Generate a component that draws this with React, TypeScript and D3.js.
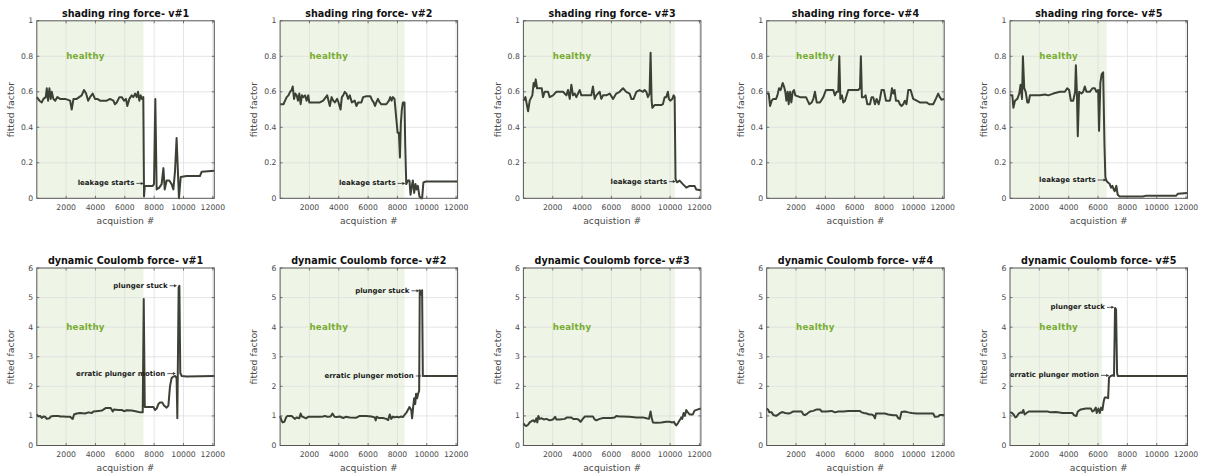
import React from 'react';
import * as d3 from 'd3';

type Pt = [number, number];
type Mark = { label: string; tail: Pt; head: Pt };

// ---- axes ----
const ACQ_MAX = 12100;
const X_TICKS = [2000, 4000, 6000, 8000, 10000, 12000];
const SHADING_TICKS = [0, 0.2, 0.4, 0.6, 0.8, 1];
const COULOMB_TICKS = [0, 1, 2, 3, 4, 5, 6];
const VALVES = ['v#1', 'v#2', 'v#3', 'v#4', 'v#5'];

// acquisition index where each valve stops being healthy
const SHADING_HEALTHY_END = [7270, 8480, 10330, 12100, 6600];
const COULOMB_HEALTHY_END = [7270, 8480, 10330, 12100, 6270];

// ---- shading ring force fitted factor ----
const shadingV1: Pt[] = [
  [0, 0.57], [180, 0.55], [340, 0.54], [450, 0.56], [610, 0.57], [680, 0.62], [770, 0.55], [860, 0.62],
  [950, 0.56], [1020, 0.6], [1130, 0.56], [1250, 0.55], [1400, 0.57], [1590, 0.56], [1930, 0.56],
  [2270, 0.55], [2380, 0.5], [2500, 0.56], [2720, 0.56], [3060, 0.58], [3220, 0.61], [3360, 0.59],
  [3500, 0.55], [3630, 0.57], [3810, 0.59], [3970, 0.56], [4130, 0.56], [4310, 0.55], [4770, 0.55],
  [4990, 0.56], [5220, 0.55], [5330, 0.53], [5450, 0.54], [5630, 0.57], [5790, 0.57], [5950, 0.55],
  [6080, 0.56], [6170, 0.52], [6310, 0.56], [6470, 0.58], [6580, 0.57], [6700, 0.59], [6810, 0.57],
  [6900, 0.6], [6990, 0.55], [7080, 0.58], [7170, 0.56], [7260, 0.57], [7310, 0.01], [7360, 0.07],
  [7490, 0.07], [7900, 0.07], [7990, 0.08], [8080, 0.56], [8170, 0.05], [8350, 0.06], [8510, 0.08],
  [8630, 0.17], [8720, 0.05], [8850, 0.1], [9030, 0.1], [9190, 0.08], [9310, 0.05], [9420, 0.15],
  [9530, 0.34], [9690, 0.0], [9810, 0.12], [10210, 0.125], [10900, 0.125], [11120, 0.125],
  [11240, 0.15], [12100, 0.155],
];

const shadingV2: Pt[] = [
  [0, 0.53], [230, 0.53], [340, 0.55], [450, 0.57], [570, 0.58], [680, 0.6], [790, 0.61], [860, 0.63],
  [950, 0.56], [1040, 0.59], [1130, 0.58], [1220, 0.55], [1310, 0.59], [1400, 0.53], [1490, 0.58],
  [1580, 0.57], [1700, 0.58], [1810, 0.55], [1920, 0.58], [1990, 0.54], [2260, 0.54], [2710, 0.54],
  [2940, 0.55], [3120, 0.57], [3210, 0.58], [3300, 0.55], [3390, 0.52], [3510, 0.57], [3620, 0.55],
  [3730, 0.54], [3890, 0.56], [3980, 0.54], [4120, 0.5], [4210, 0.57], [4300, 0.58], [4410, 0.6],
  [4520, 0.59], [4640, 0.56], [4750, 0.58], [4890, 0.54], [5090, 0.55], [5200, 0.52], [5320, 0.54],
  [5540, 0.54], [5660, 0.57], [5880, 0.575], [6150, 0.575], [6290, 0.55], [6380, 0.54], [6470, 0.52],
  [6560, 0.54], [6670, 0.56], [6790, 0.54], [6900, 0.53], [7240, 0.53], [7420, 0.55], [7510, 0.57],
  [7600, 0.55], [7690, 0.57], [7800, 0.56], [7920, 0.45], [8010, 0.37], [8100, 0.37], [8170, 0.23],
  [8230, 0.42], [8300, 0.5], [8370, 0.54], [8480, 0.54], [8530, 0.3], [8600, 0.08], [8710, 0.1],
  [8820, 0.1], [8890, 0.02], [8980, 0.07], [9050, 0.1], [9140, 0.03], [9230, 0.08], [9300, 0.05],
  [9390, 0.07], [9500, 0.01], [9610, 0.0], [9680, 0.0], [9770, 0.09], [9950, 0.095], [12100, 0.095],
];

const shadingV3: Pt[] = [
  [0, 0.55], [140, 0.57], [230, 0.53], [320, 0.49], [430, 0.55], [550, 0.57], [610, 0.58], [700, 0.65],
  [770, 0.63], [840, 0.67], [930, 0.62], [1110, 0.62], [1250, 0.62], [1340, 0.57], [1450, 0.6],
  [1680, 0.6], [1790, 0.57], [2020, 0.58], [2250, 0.6], [2700, 0.6], [2930, 0.58], [3040, 0.61],
  [3160, 0.56], [3270, 0.64], [3380, 0.58], [3500, 0.59], [3610, 0.57], [3720, 0.59], [3840, 0.61],
  [3950, 0.58], [4290, 0.58], [4630, 0.58], [4740, 0.63], [4860, 0.56], [4970, 0.58], [5200, 0.6],
  [5310, 0.56], [5430, 0.58], [5650, 0.58], [5880, 0.59], [6110, 0.56], [6330, 0.59], [6560, 0.6],
  [6790, 0.62], [7010, 0.6], [7240, 0.59], [7360, 0.56], [7510, 0.56], [7700, 0.6], [7920, 0.61],
  [8150, 0.6], [8260, 0.61], [8380, 0.6], [8490, 0.57], [8600, 0.59], [8670, 0.82], [8740, 0.55],
  [8790, 0.51], [8940, 0.525], [9400, 0.525], [9510, 0.53], [9630, 0.57], [9740, 0.57], [9850, 0.6],
  [9920, 0.56], [10010, 0.55], [10150, 0.56], [10240, 0.58], [10310, 0.57], [10370, 0.11],
  [10470, 0.09], [10650, 0.1], [10870, 0.08], [10990, 0.07], [11100, 0.06], [11330, 0.07],
  [11670, 0.07], [11780, 0.05], [12100, 0.045],
];

const shadingV4: Pt[] = [
  [0, 0.59], [140, 0.59], [230, 0.52], [340, 0.55], [450, 0.56], [640, 0.56], [730, 0.58], [840, 0.62],
  [950, 0.61], [1090, 0.65], [1180, 0.63], [1270, 0.6], [1340, 0.55], [1430, 0.6], [1500, 0.53],
  [1590, 0.6], [1680, 0.54], [1770, 0.6], [1860, 0.61], [1950, 0.58], [2270, 0.57], [2500, 0.57],
  [2680, 0.57], [2790, 0.55], [2910, 0.53], [3070, 0.54], [3180, 0.56], [3290, 0.6], [3410, 0.54],
  [3630, 0.54], [3860, 0.57], [4040, 0.61], [4310, 0.61], [4540, 0.61], [4650, 0.58], [4770, 0.6],
  [4880, 0.6], [4950, 0.8], [5020, 0.56], [5130, 0.58], [5220, 0.54], [5340, 0.55], [5560, 0.61],
  [5900, 0.61], [6240, 0.61], [6360, 0.62], [6420, 0.8], [6490, 0.57], [6630, 0.57], [6740, 0.58],
  [6860, 0.53], [7040, 0.53], [7150, 0.57], [7260, 0.57], [7380, 0.53], [7490, 0.56], [7630, 0.53],
  [7720, 0.56], [7830, 0.61], [7990, 0.61], [8130, 0.55], [8400, 0.55], [8470, 0.58], [8540, 0.62],
  [8630, 0.59], [8720, 0.61], [8810, 0.55], [8970, 0.55], [9080, 0.53], [9190, 0.52], [9310, 0.53],
  [9420, 0.55], [9530, 0.53], [9650, 0.61], [9810, 0.61], [9990, 0.56], [10220, 0.55], [10440, 0.54],
  [10670, 0.54], [10900, 0.54], [11080, 0.53], [11350, 0.53], [11530, 0.56], [11690, 0.59],
  [11800, 0.57], [11920, 0.555], [12100, 0.56],
];

const shadingV5: Pt[] = [
  [0, 0.58], [160, 0.58], [230, 0.51], [340, 0.55], [500, 0.56], [630, 0.59], [720, 0.64], [820, 0.56],
  [880, 0.8], [970, 0.62], [1070, 0.6], [1180, 0.54], [1270, 0.54], [1360, 0.58], [1590, 0.58],
  [2040, 0.58], [2380, 0.585], [2610, 0.58], [2950, 0.59], [3400, 0.6], [3740, 0.6], [3900, 0.62],
  [4030, 0.61], [4150, 0.55], [4310, 0.55], [4440, 0.6], [4490, 0.75], [4560, 0.6], [4620, 0.35],
  [4710, 0.6], [4870, 0.59], [4990, 0.6], [5100, 0.63], [5210, 0.6], [5440, 0.6], [5620, 0.62],
  [5780, 0.62], [5890, 0.6], [6010, 0.61], [6070, 0.38], [6160, 0.65], [6250, 0.7], [6350, 0.71],
  [6440, 0.3], [6500, 0.12], [6570, 0.1], [6660, 0.09], [6800, 0.08], [6890, 0.06], [6980, 0.07],
  [7070, 0.05], [7140, 0.04], [7250, 0.07], [7340, 0.02], [7480, 0.01], [9060, 0.01], [9290, 0.015],
  [11330, 0.015], [11440, 0.025], [12100, 0.03],
];

// ---- dynamic Coulomb force fitted factor ----
const coulombV1: Pt[] = [
  [0, 1.05], [110, 0.98], [230, 1.0], [340, 0.93], [450, 0.98], [570, 0.97], [680, 0.9], [860, 0.92],
  [950, 0.98], [1140, 1.0], [1480, 1.0], [1590, 0.98], [1820, 0.98], [2040, 0.97], [2270, 0.97],
  [2380, 0.92], [2450, 0.9], [2540, 1.05], [2720, 1.08], [2950, 1.1], [3290, 1.08], [3520, 1.12],
  [3750, 1.1], [3860, 1.15], [4200, 1.17], [4430, 1.18], [4720, 1.27], [5040, 1.27], [5180, 1.15],
  [5270, 1.22], [5560, 1.2], [5790, 1.2], [5950, 1.16], [6130, 1.19], [6470, 1.18], [6810, 1.15],
  [7040, 1.12], [7220, 1.12], [7290, 4.95], [7360, 1.3], [7490, 1.3], [7950, 1.3], [8060, 1.2],
  [8170, 1.25], [8290, 1.4], [8400, 1.45], [8560, 1.45], [8670, 1.35], [8850, 1.28], [8970, 1.35],
  [9080, 2.0], [9190, 2.28], [9310, 2.33], [9420, 2.35], [9530, 2.28], [9580, 0.92], [9670, 5.35],
  [9720, 5.4], [9780, 2.45], [9880, 2.35], [10220, 2.33], [11120, 2.34], [12100, 2.35],
];

const coulombV2: Pt[] = [
  [0, 1.0], [90, 0.85], [180, 0.78], [290, 0.8], [410, 0.95], [500, 1.0], [790, 1.0], [900, 0.95],
  [1020, 0.9], [1130, 0.95], [1310, 0.92], [1400, 1.08], [1490, 0.98], [1630, 0.95], [1760, 0.92],
  [1920, 0.97], [2040, 0.97], [2710, 0.97], [2940, 0.98], [3050, 1.0], [3210, 0.97], [3440, 0.98],
  [3570, 1.08], [3710, 0.97], [3850, 0.96], [4070, 0.98], [4300, 0.93], [4480, 0.97], [4750, 0.95],
  [5200, 0.94], [5430, 1.0], [5880, 1.0], [6220, 0.98], [6450, 0.95], [6520, 0.85], [6580, 0.97],
  [6740, 0.93], [7010, 0.93], [7240, 0.9], [7370, 0.86], [7470, 1.05], [7580, 0.9], [7690, 0.98],
  [7800, 0.95], [7960, 0.97], [8100, 0.95], [8260, 0.98], [8370, 0.96], [8510, 1.05], [8600, 1.1],
  [8710, 1.2], [8820, 1.3], [8940, 1.2], [9000, 0.92], [9070, 1.3], [9140, 1.6], [9210, 1.4],
  [9270, 1.75], [9340, 1.6], [9410, 1.75], [9480, 1.85], [9520, 5.25], [9610, 5.1], [9680, 5.25],
  [9730, 2.35], [9950, 2.35], [12100, 2.35],
];

const coulombV3: Pt[] = [
  [0, 0.75], [110, 0.68], [200, 0.66], [320, 0.7], [430, 0.78], [550, 0.82], [660, 0.85], [770, 0.8],
  [890, 0.92], [950, 0.78], [1020, 1.0], [1110, 0.9], [1250, 0.92], [1390, 0.88], [1570, 0.9],
  [1790, 0.85], [2020, 0.88], [2160, 0.97], [2250, 0.88], [2470, 0.88], [2820, 0.9], [2970, 0.95],
  [3270, 0.95], [3380, 0.9], [3610, 0.9], [3750, 0.88], [3900, 0.8], [4020, 0.88], [4180, 0.98],
  [4520, 0.98], [4740, 0.98], [4860, 0.88], [4970, 0.85], [5200, 0.9], [5430, 0.93], [5650, 0.93],
  [5990, 0.93], [6220, 0.95], [6330, 1.0], [6560, 0.98], [6790, 0.98], [7240, 0.97], [7700, 0.95],
  [8150, 0.95], [8380, 0.92], [8560, 0.9], [8670, 1.15], [8740, 0.95], [8830, 0.78], [9060, 0.77],
  [9400, 0.78], [9740, 0.8], [9970, 0.8], [10150, 0.78], [10260, 0.8], [10350, 0.72], [10420, 0.68],
  [10530, 0.75], [10650, 0.85], [10760, 0.95], [10830, 0.9], [10920, 1.1], [11010, 1.0], [11100, 1.2],
  [11210, 1.12], [11330, 1.05], [11550, 1.05], [11670, 1.18], [11900, 1.22], [12100, 1.25],
];

const coulombV4: Pt[] = [
  [0, 1.25], [110, 1.2], [180, 1.12], [340, 1.12], [450, 1.03], [640, 1.0], [800, 1.05], [910, 1.1],
  [1090, 1.13], [1250, 1.1], [1480, 1.08], [1630, 1.1], [1820, 1.15], [2380, 1.15], [2500, 1.05],
  [2610, 1.03], [2770, 1.08], [2950, 1.15], [3180, 1.17], [3410, 1.22], [3630, 1.22], [3750, 1.15],
  [4090, 1.15], [4430, 1.17], [4650, 1.12], [4880, 1.15], [5220, 1.15], [5560, 1.17], [6020, 1.17],
  [6360, 1.17], [6470, 1.12], [6630, 1.1], [6810, 1.08], [6990, 1.05], [7150, 1.05], [7310, 1.0],
  [7380, 0.92], [7450, 1.08], [7720, 1.08], [8060, 1.08], [8290, 1.05], [8630, 1.02], [8850, 1.02],
  [8970, 0.92], [9080, 0.9], [9190, 1.13], [9420, 1.15], [9650, 1.12], [9880, 1.1], [10220, 1.08],
  [10670, 1.08], [11350, 1.08], [11460, 0.97], [11690, 0.98], [11800, 1.03], [12100, 1.03],
];

const coulombV5: Pt[] = [
  [0, 1.13], [140, 1.1], [250, 1.05], [360, 0.95], [450, 0.97], [590, 1.08], [730, 1.12], [820, 1.1],
  [910, 1.2], [1000, 1.05], [1130, 1.1], [1270, 1.15], [1540, 1.15], [1990, 1.15], [2560, 1.15],
  [2790, 1.12], [3130, 1.13], [3580, 1.1], [4260, 1.1], [4370, 1.02], [4530, 1.0], [4620, 1.15],
  [4830, 1.22], [5170, 1.25], [5510, 1.25], [5620, 1.15], [5730, 1.18], [5850, 1.28], [5910, 1.1],
  [6030, 1.25], [6120, 1.1], [6210, 1.28], [6300, 1.2], [6390, 1.5], [6460, 1.62], [6590, 1.62],
  [6690, 1.6], [6750, 2.3], [6870, 2.35], [7030, 2.38], [7090, 2.35], [7160, 4.65], [7230, 4.6],
  [7300, 2.45], [7340, 2.35], [7890, 2.35], [10150, 2.35], [12100, 2.35],
];

// ---- annotations (data coordinates: text ends at tail, arrow points at head) ----
const SHADING_MARKS: Mark[][] = [
  [{ label: 'leakage starts', tail: [6720, 0.084], head: [7290, 0.084] }],
  [{ label: 'leakage starts', tail: [7940, 0.084], head: [8540, 0.084] }],
  [{ label: 'leakage starts', tail: [9870, 0.094], head: [10390, 0.094] }],
  [],
  [{ label: 'leakage starts', tail: [5910, 0.103], head: [6580, 0.103] }],
];

const COULOMB_MARKS: Mark[][] = [
  [
    { label: 'plunger stuck', tail: [8990, 5.4], head: [9560, 5.4] },
    { label: 'erratic plunger motion', tail: [8830, 2.43], head: [9480, 2.43] },
  ],
  [
    { label: 'plunger stuck', tail: [8890, 5.23], head: [9500, 5.23] },
    { label: 'erratic plunger motion', tail: [9180, 2.35], head: [9640, 2.35] },
  ],
  [],
  [],
  [
    { label: 'plunger stuck', tail: [6540, 4.67], head: [7110, 4.67] },
    { label: 'erratic plunger motion', tail: [6140, 2.37], head: [6760, 2.37] },
  ],
];

const SHADING_SERIES = [shadingV1, shadingV2, shadingV3, shadingV4, shadingV5];
const COULOMB_SERIES = [coulombV1, coulombV2, coulombV3, coulombV4, coulombV5];

// ---- styling ----
const FONT = '"DejaVu Sans", sans-serif';
const HEALTHY_GREEN = '#77ac30';
const LINE_COLOR = '#3c4136';
const GRID_COLOR = '#dedede';
const AXIS_COLOR = '#555';
const TICK_TEXT = '#4a4a4a';

const PLOT_W = 177.5;
const PLOT_H = 177.5;
const PANEL_STEP = 243.3;
const FIRST_LEFT = 36.8;
const ROW_TOPS = [20.8, 268];

interface PanelProps {
  left: number;
  top: number;
  title: string;
  data: Pt[];
  yTicks: number[];
  healthyEnd: number;
  healthyY: number;
  marks: Mark[];
}

function Panel({ left, top, title, data, yTicks, healthyEnd, healthyY, marks }: PanelProps) {
  const yMax = yTicks[yTicks.length - 1];
  const x = d3.scaleLinear().domain([0, ACQ_MAX]).range([0, PLOT_W]);
  const y = d3.scaleLinear().domain([0, yMax]).range([PLOT_H, 0]);
  const line = d3
    .line<Pt>()
    .x((d) => x(d[0]))
    .y((d) => y(d[1]))
    .curve(d3.curveLinear);
  const fmt = (v: number) => String(v);
  const tickLen = 2.5;

  return (
    <g transform={`translate(${left},${top})`}>
      {/* healthy region */}
      <rect x={0} y={0} width={x(healthyEnd)} height={PLOT_H} fill={HEALTHY_GREEN} fillOpacity={0.12} />

      {/* grid */}
      {X_TICKS.filter((t) => x(t) < PLOT_W - 1).map((t) => (
        <line key={`gx${t}`} x1={x(t)} x2={x(t)} y1={0} y2={PLOT_H} stroke={GRID_COLOR} strokeWidth={0.8} />
      ))}
      {yTicks.slice(1, -1).map((t) => (
        <line key={`gy${t}`} x1={0} x2={PLOT_W} y1={y(t)} y2={y(t)} stroke={GRID_COLOR} strokeWidth={0.8} />
      ))}

      {/* series */}
      <path d={line(data) ?? ''} fill="none" stroke={LINE_COLOR} strokeWidth={2} strokeLinejoin="round" />

      {/* healthy label */}
      <text
        x={x(2000)}
        y={y(healthyY)}
        fill={HEALTHY_GREEN}
        fontFamily={FONT}
        fontWeight="bold"
        fontSize={8.6}
        dominantBaseline="central"
        letterSpacing={0.3}
      >
        healthy
      </text>

      {/* annotations */}
      {marks.map((m, i) => {
        const tx = x(m.tail[0]);
        const ty = y(m.tail[1]);
        const hx = x(m.head[0]);
        const hy = y(m.head[1]);
        return (
          <g key={`m${i}`}>
            <text
              x={tx - 1}
              y={ty}
              textAnchor="end"
              dominantBaseline="central"
              fontFamily={FONT}
              fontWeight="bold"
              fontSize={7}
              fill="#1a1a1a"
            >
              {m.label}
            </text>
            <line x1={tx + 1} x2={hx - 2} y1={ty} y2={hy} stroke="#333" strokeWidth={0.8} />
            <path d={`M${hx},${hy} L${hx - 3},${hy - 1.5} L${hx - 3},${hy + 1.5} Z`} fill="#333" />
          </g>
        );
      })}

      {/* axes box and ticks */}
      <rect x={0} y={0} width={PLOT_W} height={PLOT_H} fill="none" stroke={AXIS_COLOR} strokeWidth={1} />
      {X_TICKS.map((t) => (
        <g key={`tx${t}`}>
          <line x1={x(t)} x2={x(t)} y1={PLOT_H} y2={PLOT_H - tickLen} stroke={AXIS_COLOR} strokeWidth={0.8} />
          <line x1={x(t)} x2={x(t)} y1={0} y2={tickLen} stroke={AXIS_COLOR} strokeWidth={0.8} />
          <text
            x={x(t)}
            y={PLOT_H + 8.8}
            textAnchor="middle"
            dominantBaseline="central"
            fontFamily={FONT}
            fontSize={7.7}
            fill={TICK_TEXT}
          >
            {fmt(t)}
          </text>
        </g>
      ))}
      {yTicks.map((t) => (
        <g key={`ty${t}`}>
          <line x1={0} x2={tickLen} y1={y(t)} y2={y(t)} stroke={AXIS_COLOR} strokeWidth={0.8} />
          <line x1={PLOT_W} x2={PLOT_W - tickLen} y1={y(t)} y2={y(t)} stroke={AXIS_COLOR} strokeWidth={0.8} />
          <text
            x={-3.6}
            y={y(t)}
            textAnchor="end"
            dominantBaseline="central"
            fontFamily={FONT}
            fontSize={7.7}
            fill={TICK_TEXT}
          >
            {fmt(t)}
          </text>
        </g>
      ))}

      {/* labels */}
      <text
        x={PLOT_W / 2}
        y={-7.6}
        textAnchor="middle"
        dominantBaseline="central"
        fontFamily={FONT}
        fontWeight="bold"
        fontSize={9.6}
        fill="#111"
      >
        {title}
      </text>
      <text
        x={PLOT_W / 2}
        y={PLOT_H + 22}
        textAnchor="middle"
        dominantBaseline="central"
        fontFamily={FONT}
        fontSize={9.2}
        fill={TICK_TEXT}
      >
        acquistion #
      </text>
      <text
        transform={`translate(${-26.2},${PLOT_H / 2}) rotate(-90)`}
        textAnchor="middle"
        dominantBaseline="central"
        fontFamily={FONT}
        fontSize={9.4}
        fill={TICK_TEXT}
      >
        fitted factor
      </text>
    </g>
  );
}

export default function App() {
  return (
    <svg
      width={1206}
      height={473}
      viewBox="0 0 1206 473"
      style={{ position: 'absolute', left: 0, top: 0, background: '#fff' }}
    >
      <rect width={1206} height={473} fill="#fff" />
      {VALVES.map((v, i) => (
        <Panel
          key={`s${v}`}
          left={FIRST_LEFT + i * PANEL_STEP}
          top={ROW_TOPS[0]}
          title={`shading ring force- ${v}`}
          data={SHADING_SERIES[i]}
          yTicks={SHADING_TICKS}
          healthyEnd={SHADING_HEALTHY_END[i]}
          healthyY={0.8}
          marks={SHADING_MARKS[i]}
        />
      ))}
      {VALVES.map((v, i) => (
        <Panel
          key={`c${v}`}
          left={FIRST_LEFT + i * PANEL_STEP}
          top={ROW_TOPS[1]}
          title={`dynamic Coulomb force- ${v}`}
          data={COULOMB_SERIES[i]}
          yTicks={COULOMB_TICKS}
          healthyEnd={COULOMB_HEALTHY_END[i]}
          healthyY={4}
          marks={COULOMB_MARKS[i]}
        />
      ))}
    </svg>
  );
}
